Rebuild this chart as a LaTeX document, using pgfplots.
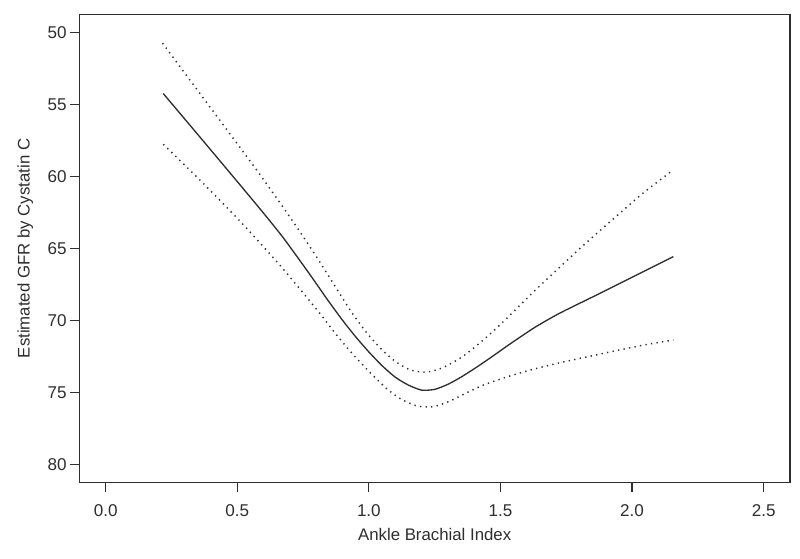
\documentclass[border=0pt]{standalone}
\usepackage{fontspec}
\setmainfont{Liberation Sans}
\usepackage{pgfplots}
\pgfplotsset{compat=1.18}
\definecolor{ink}{HTML}{2E2E2E}
\begin{document}
\begin{tikzpicture}
\useasboundingbox (-59.5pt,-56.8pt) rectangle (540.5pt,361.7pt);
\begin{axis}[
  at={(0,0)}, anchor=south west,
  scale only axis, width=533pt, height=350.7pt,
  xmin=-0.1, xmax=2.6,
  ymin=48.78, ymax=81.25,
  y dir=reverse,
  xtick={0,0.5,1,1.5,2,2.5},
  ytick={50,55,60,65,70,75,80},
  xticklabels={0.0,0.5,1.0,1.5,2.0,2.5},
  tick align=outside,
  xtick pos=bottom, ytick pos=left,
  major tick length=7pt,
  tick style={ink, line width=0.9pt},
  axis line style={ink, line width=1pt},
  /pgf/number format/assume math mode=true,
  ticklabel style={font=\fontsize{12.8}{14}\selectfont, text=ink},
  xticklabel style={yshift=-6pt},
  yticklabel style={xshift=1pt},
  label style={font=\fontsize{12.6}{14}\selectfont, text=ink},
  xlabel={Ankle Brachial Index},
  ylabel={Estimated GFR by Cystatin C},
  xlabel style={yshift=-2pt},
  ylabel style={yshift=4pt},
  clip=false,
]
% fitted curve
\addplot[ink, line width=1pt, smooth, tension=0.4] coordinates {
(0.219,54.26) (0.35,57.1) (0.474,59.8) (0.588,62.3) (0.676,64.3) (0.777,66.85)
(0.84,68.5) (0.90,70.0) (0.95,71.15) (1.0,72.2) (1.05,73.15) (1.10,73.95) (1.15,74.5)
(1.20,74.85) (1.25,74.8) (1.30,74.45) (1.35,73.95) (1.41,73.25) (1.47,72.5) (1.536,71.65)
(1.63,70.5) (1.726,69.5) (1.878,68.13) (2.03,66.74) (2.157,65.58)
};
% upper confidence band
\addplot[ink, line width=1.1pt, dash pattern=on 1pt off 3.2pt, smooth, tension=0.4] coordinates {
(0.216,50.76) (0.36,54.3) (0.486,57.4) (0.575,59.6) (0.651,61.55) (0.727,63.55)
(0.803,65.65) (0.879,67.85) (0.929,69.3) (0.993,70.9) (1.05,72.05) (1.10,72.85)
(1.157,73.45) (1.22,73.6) (1.28,73.3) (1.35,72.6) (1.41,71.75) (1.47,70.8)
(1.536,69.65) (1.63,67.95) (1.726,66.3) (1.821,64.7) (1.942,62.75) (2.043,61.15) (2.157,59.56)
};
% lower confidence band
\addplot[ink, line width=1.1pt, dash pattern=on 1pt off 3.2pt, smooth, tension=0.4] coordinates {
(0.219,57.78) (0.36,60.3) (0.486,62.65) (0.575,64.4) (0.663,66.2) (0.739,67.85)
(0.815,69.55) (0.87,70.85) (0.929,72.15) (1.0,73.55) (1.068,74.75) (1.12,75.45)
(1.182,75.95) (1.245,76.0) (1.309,75.6) (1.37,75.05) (1.435,74.5) (1.53,73.9)
(1.625,73.4) (1.726,72.95) (1.853,72.45) (1.942,72.1) (2.05,71.7) (2.157,71.37)
};
\end{axis}
\end{tikzpicture}
\end{document}
